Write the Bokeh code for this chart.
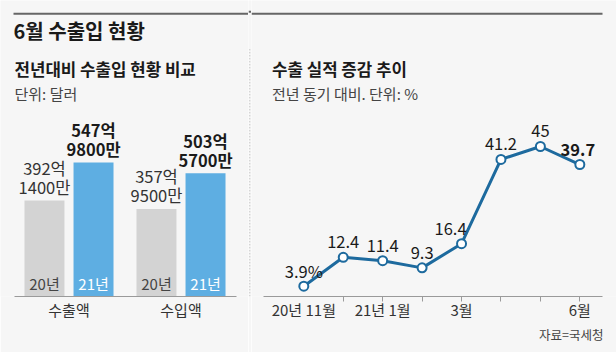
from bokeh.plotting import figure
from bokeh.layouts import row
from bokeh.models import ColumnDataSource, Range1d, FixedTicker, Title
from bokeh.transform import dodge
from bokeh.core.properties import value
from bokeh.embed import file_html
from bokeh.resources import INLINE

# ---------------- data ----------------
categories = ["수출액", "수입액"]
years = ["20년", "21년"]
value_2020 = [392.14, 357.95]   # 억 달러
value_2021 = [547.98, 503.57]   # 억 달러

months = ["20년 11월", "12월", "21년 1월", "2월", "3월", "4월", "5월", "6월"]
growth = [3.9, 12.4, 11.4, 9.3, 16.4, 41.2, 45.0, 39.7]   # %
shown_months = [0, 2, 4, 7]

# ---------------- style ----------------
BG = "#f6f6f6"
GRAY_BAR = "#d3d3d3"
BLUE_BAR = "#5eaee2"
LINE = "#1d6a9e"
AXIS = "#9a9a9a"
FONT = "'Liberation Sans Narrow', 'Noto Sans CJK KR', sans-serif"
F = value(FONT)
label_shift_px = [0, 0, 0, 0, -11, 0, 0, -2]   # horizontal nudge of point labels


def eok(v):
    return f"{int(v)}억"


def man(v):
    return f"{int(round((v - int(v)) * 10000))}만"


def header_text(p, x, y, txt, size, bold=False, color="#222"):
    p.text(x=[x], y=[y], text=[txt], x_range_name="px", y_range_name="px",
           text_font=F, text_font_size=size, text_font_style="bold" if bold else "normal",
           text_color=color, text_align="left", text_baseline="middle")


common = dict(height=352, output_backend="svg", toolbar_location=None, title=None,
              background_fill_color=BG, border_fill_color=BG, outline_line_color=None,
              min_border_left=0, min_border_right=0, min_border_top=0,
              y_axis_location=None)

# ---------------- left: bar chart ----------------
left = figure(width=248, x_range=Range1d(-0.6116, 1.6027), y_range=Range1d(0, 1210.6),
              min_border_bottom=56, **common)
left.extra_x_ranges = {"px": Range1d(0, 248)}
left.extra_y_ranges = {"px": Range1d(296, 0)}
left.grid.visible = False

bsrc = ColumnDataSource(dict(
    idx=list(range(len(categories))),
    v20=value_2020, v21=value_2021,
    a20=[eok(v) for v in value_2020], b20=[man(v) for v in value_2020],
    a21=[eok(v) for v in value_2021], b21=[man(v) for v in value_2021],
))
OFF = 0.219
W = 0.357
left.vbar(x=dodge("idx", -OFF), top="v20", width=W, source=bsrc,
          fill_color=GRAY_BAR, line_color=None)
left.vbar(x=dodge("idx", OFF), top="v21", width=W, source=bsrc,
          fill_color=BLUE_BAR, line_color=None)

lab = dict(text_font=F, text_font_size="16.5px", text_align="center", text_baseline="middle")
left.text(x=dodge("idx", -OFF), y="v20", text="a20", y_offset=-32.5, source=bsrc,
          text_color="#333", **lab)
left.text(x=dodge("idx", -OFF), y="v20", text="b20", y_offset=-13.5, source=bsrc,
          text_color="#333", **lab)
left.text(x=dodge("idx", OFF), y="v21", text="a21", y_offset=-32.5, source=bsrc,
          text_color="#1a1a1a", text_font_style="bold", **lab)
left.text(x=dodge("idx", OFF), y="v21", text="b21", y_offset=-13.5, source=bsrc,
          text_color="#1a1a1a", text_font_style="bold", **lab)

inner = dict(text_font=F, text_font_size="15px", text_align="center", text_baseline="middle")
left.text(x=dodge("idx", -OFF), y=0, text=value(years[0]), y_offset=-13, source=bsrc,
          text_color="#444", **inner)
left.text(x=dodge("idx", OFF), y=0, text=value(years[1]), y_offset=-13, source=bsrc,
          text_color="white", **inner)

ax = left.xaxis[0]
ax.ticker = FixedTicker(ticks=list(range(len(categories))))
ax.major_label_overrides = {i: c for i, c in enumerate(categories)}
ax.bounds = (-0.487, 1.495)
ax.major_tick_in = 0
ax.major_tick_out = 0
ax.minor_tick_line_color = None
ax.axis_line_color = AXIS
ax.major_label_text_font = FONT
ax.major_label_text_font_size = "15px"
ax.major_label_text_color = "#333"
ax.major_label_standoff = 2

# header (left part)
left.segment(x0=[13], y0=[13.3], x1=[248], y1=[13.3], x_range_name="px", y_range_name="px",
             line_color="#666", line_width=2)
header_text(left, 13, 30, "6월 수출입 현황", "20px", bold=True, color="#1a1a1a")
header_text(left, 14, 68.5, "전년대비 수출입 현황 비교", "16.8px", bold=True, color="#1a1a1a")
header_text(left, 14, 92.5, "단위: 달러", "15px", color="#444")

# ---------------- separator ----------------
sep = figure(width=3, x_range=Range1d(0, 3), y_range=Range1d(352, 0),
             min_border_bottom=0, x_axis_location=None, **common)
sep.grid.visible = False
sep.segment(x0=[0], y0=[13.3], x1=[3], y1=[13.3], line_color="#666", line_width=2)
sep.segment(x0=[1.3], y0=[58], x1=[1.3], y1=[352], line_color="#b5b5b5", line_width=1,
            line_dash="1 2")

# ---------------- right: line chart ----------------
right = figure(width=365, x_range=Range1d(-1.3264, 7.930), y_range=Range1d(0.88, 87.94),
               min_border_bottom=56, **common)
right.extra_x_ranges = {"px": Range1d(251, 616)}
right.extra_y_ranges = {"px": Range1d(296, 0)}
right.grid.visible = False

lsrc = ColumnDataSource(dict(
    i=list(range(len(months))),
    g=growth,
    lab=[(f"{v:g}%" if k == 0 else f"{v:g}") for k, v in enumerate(growth)],
    style=["bold" if k == len(growth) - 1 else "normal" for k in range(len(growth))],
    dx=label_shift_px,
))
right.line(x="i", y="g", source=lsrc, line_color=LINE, line_width=3)
right.scatter(x="i", y="g", source=lsrc, size=9, fill_color="white", line_color=LINE,
              line_width=2)
right.text(x="i", y="g", text="lab", source=lsrc, x_offset="dx", y_offset=-15, text_font=F,
           text_font_size="16.5px", text_font_style="style", text_color="#1a1a1a",
           text_align="center", text_baseline="middle")

ax = right.xaxis[0]
ax.ticker = FixedTicker(ticks=shown_months, minor_ticks=list(range(1, len(months))))
ax.major_label_overrides = {i: months[i] for i in shown_months}
ax.bounds = (-1.022, 7.575)
ax.major_tick_in = 0
ax.major_tick_out = 0
ax.minor_tick_in = 0
ax.minor_tick_out = 5
ax.minor_tick_line_color = AXIS
ax.axis_line_color = AXIS
ax.major_label_text_font = FONT
ax.major_label_text_font_size = "15px"
ax.major_label_text_color = "#333"
ax.major_label_standoff = -3

right.add_layout(Title(text="자료=국세청", align="right", offset=13, standoff=1, text_font=FONT,
                       text_font_size="12.5px", text_font_style="normal",
                       text_color="#444"), "below")

# header (right part)
right.segment(x0=[251], y0=[13.3], x1=[602], y1=[13.3], x_range_name="px", y_range_name="px",
              line_color="#666", line_width=2)
header_text(right, 271.5, 68.5, "수출 실적 증감 추이", "16.8px", bold=True, color="#1a1a1a")
header_text(right, 271.5, 92.5, "전년 동기 대비. 단위: %", "15px", color="#444")

layout = row(left, sep, right, spacing=0)
open("out.html", "w").write(file_html(layout, INLINE))
